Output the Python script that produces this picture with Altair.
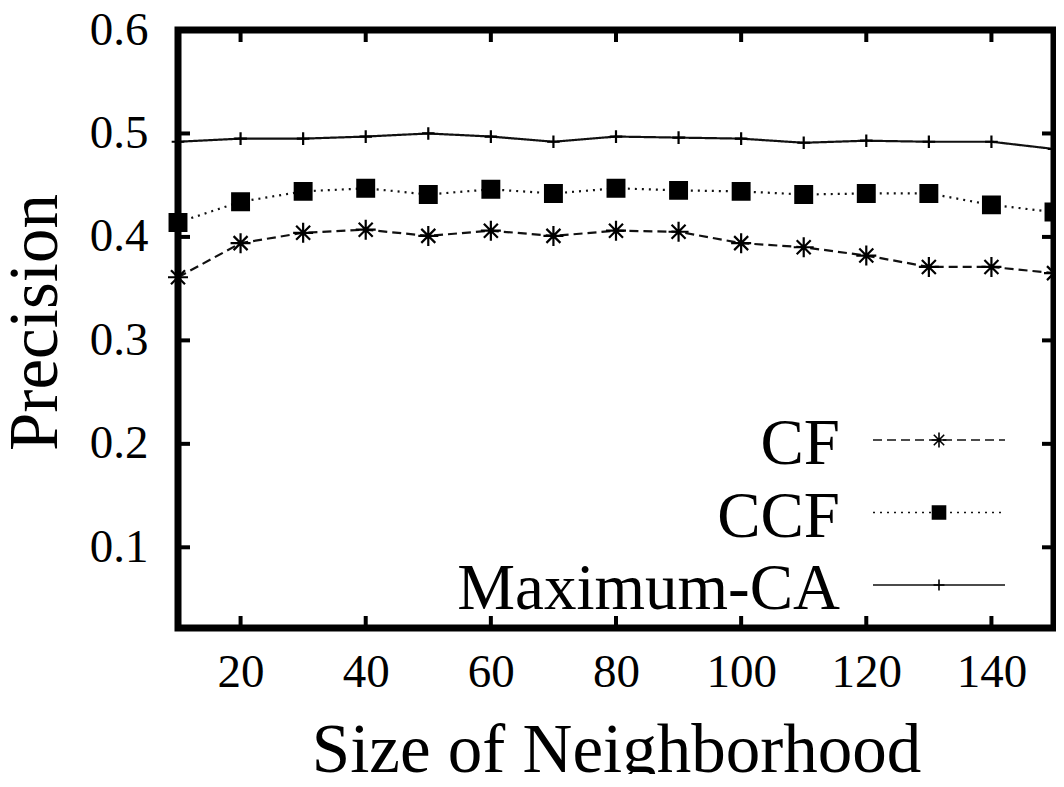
import altair as alt
import pandas as pd

sizes = [10, 20, 30, 40, 50, 60, 70, 80, 90, 100, 110, 120, 130, 140, 150]
cf = [0.361, 0.394, 0.404, 0.407, 0.401, 0.406, 0.401, 0.406, 0.405, 0.394, 0.390, 0.382, 0.371, 0.371, 0.365]
ccf = [0.414, 0.434, 0.444, 0.447, 0.441, 0.446, 0.442, 0.447, 0.445, 0.444, 0.441, 0.442, 0.442, 0.431, 0.424]
maxca = [0.492, 0.495, 0.495, 0.497, 0.500, 0.497, 0.492, 0.497, 0.496, 0.495, 0.491, 0.493, 0.492, 0.492, 0.485]
series_names = ["CF", "CCF", "Maximum-CA"]
x_ticks = [20, 40, 60, 80, 100, 120, 140]
y_ticks = [0.1, 0.2, 0.3, 0.4, 0.5, 0.6]

rows = []
for name, vals in zip(series_names, [cf, ccf, maxca]):
    for s, v in zip(sizes, vals):
        rows.append({"size": s, "precision": v, "series": name})
df = pd.DataFrame(rows)
legend_df = pd.DataFrame({"series": series_names})
xt_df = pd.DataFrame({"t": x_ticks})
yt_df = pd.DataFrame({"t": y_ticks[:-1]})

W, H = 876, 598
FONT = "Liberation Serif"

xscale = alt.Scale(domain=[10, 150], nice=False, zero=False)
yscale = alt.Scale(domain=[0.022, 0.6], nice=False, zero=False)

star = "M-1,0L1,0M0,-1L0,1M-0.7,-0.7L0.7,0.7M-0.7,0.7L0.7,-0.7"
plus = "M-1,0L1,0M0,-1L0,1"

shape_enc = alt.Shape("series:N", scale=alt.Scale(domain=series_names, range=[star, "square", plus]), legend=None)
dash_enc = alt.StrokeDash("series:N", scale=alt.Scale(domain=series_names, range=[[9, 5], [2, 5], [1, 0]]), legend=None)
size_enc = alt.Size("series:N", scale=alt.Scale(domain=series_names, range=[400, 160, 470]), legend=None)

base = alt.Chart(df)

lines = base.mark_line(color="#111", strokeWidth=2.2).encode(
    x=alt.X("size:Q", scale=xscale,
            axis=alt.Axis(values=x_ticks, title="Size of Neighborhood", grid=False, domain=False,
                          ticks=False, tickSize=0, labelPadding=21, titlePadding=21)),
    y=alt.Y("precision:Q", scale=yscale,
            axis=alt.Axis(values=y_ticks, format=".1f", title="Precision", grid=False, domain=False,
                          ticks=False, tickSize=0, labelPadding=30, titlePadding=19, titleY=292)),
    strokeDash=dash_enc,
    detail="series:N",
)

points = base.mark_point(filled=True, fill="black", stroke="black", strokeWidth=2.2, opacity=1).encode(
    x=alt.X("size:Q", scale=xscale),
    y=alt.Y("precision:Q", scale=yscale),
    shape=shape_enc,
    size=size_enc,
)

tick_w = 4
xt_bottom = alt.Chart(xt_df).mark_rule(color="black", strokeWidth=tick_w).encode(
    x=alt.X("t:Q", scale=xscale), y=alt.value(H), y2=alt.value(H - 12))
xt_top = alt.Chart(xt_df).mark_rule(color="black", strokeWidth=tick_w).encode(
    x=alt.X("t:Q", scale=xscale), y=alt.value(0), y2=alt.value(12))
yt_left = alt.Chart(yt_df).mark_rule(color="black", strokeWidth=tick_w).encode(
    y=alt.Y("t:Q", scale=yscale), x=alt.value(0), x2=alt.value(12))
yt_right = alt.Chart(yt_df).mark_rule(color="black", strokeWidth=tick_w).encode(
    y=alt.Y("t:Q", scale=yscale), x=alt.value(W), x2=alt.value(W - 12))

main = alt.layer(lines, points, xt_bottom, xt_top, yt_left, yt_right)

leg_y = alt.Y("series:N", scale=alt.Scale(domain=series_names, range=[410, 555], type="point", padding=0), axis=None)
leg_base = alt.Chart(legend_df)
leg_text = leg_base.mark_text(font=FONT, fontSize=65, align="right", baseline="middle", dy=4, color="black").encode(
    x=alt.value(662), y=leg_y, text="series:N")
leg_rule = leg_base.mark_rule(color="#111", strokeWidth=1.6).encode(
    x=alt.value(695), x2=alt.value(827), y=leg_y, strokeDash=dash_enc)
leg_pts = leg_base.mark_point(filled=True, fill="black", stroke="black", strokeWidth=1.6, opacity=1).encode(
    x=alt.value(761), y=leg_y, shape=shape_enc,
    size=alt.Size("series:N", scale=alt.Scale(domain=series_names, range=[220, 120, 300]), legend=None))
legend = alt.layer(leg_text, leg_rule, leg_pts)

chart = alt.layer(main, legend).resolve_scale(y="independent", size="independent").properties(
    width=W, height=H,
    autosize=alt.AutoSizeParams(type="none"),
    padding={"left": 170, "top": 22, "right": 2, "bottom": 146},
    background="white",
).configure_view(stroke="black", strokeWidth=7).configure_axis(
    labelFont=FONT, titleFont=FONT, labelFontSize=47, titleFontSize=69,
    labelColor="black", titleColor="black", titleFontWeight="normal",
)

chart.save("out.html", embed_options={"renderer": "svg", "actions": False})
